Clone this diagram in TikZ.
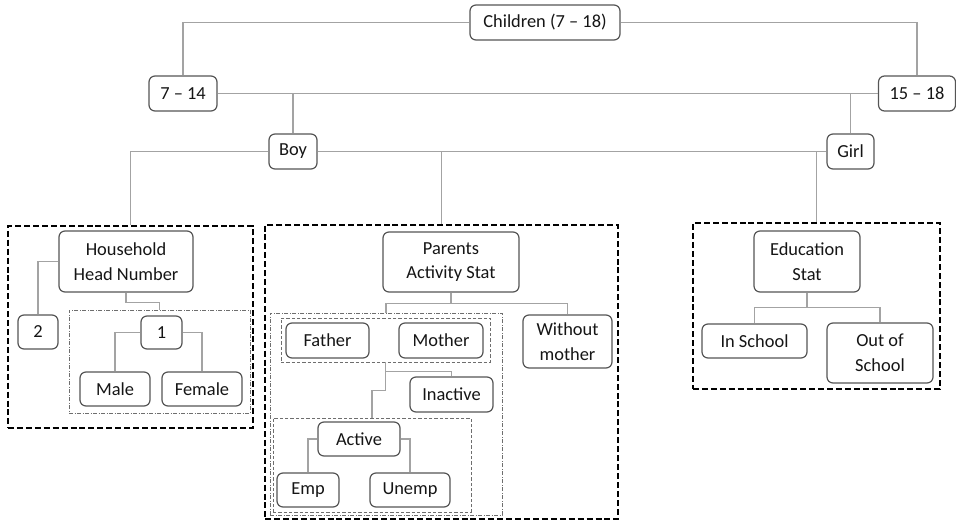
\documentclass[tikz,border=0pt]{standalone}
\usepackage{fontspec}
\setmainfont{Carlito}
\usetikzlibrary{calc}
\definecolor{boxgray}{HTML}{555555}
\definecolor{linkgray}{HTML}{A3A3A3}
\definecolor{setgray}{HTML}{6E6E6E}
\definecolor{textgray}{HTML}{151515}
\tikzset{
	box/.style={draw=boxgray, rounded corners=4.5pt, line width=0.9pt, align=center, inner sep=1pt, fill=white, text=textgray, font=\fontsize{13.8}{18.5}\selectfont},
	link/.style={draw=linkgray, line width=0.8pt},
	groupbox/.style={draw=black, line width=1.5pt, dash pattern=on 4.5pt off 2.2pt, inner sep=0pt},
	dotset/.style={draw=setgray, line width=0.6pt, dash pattern=on 3pt off 1.2pt on 0.6pt off 1.2pt, inner sep=0pt},
	dashset/.style={draw=setgray, line width=0.7pt, dash pattern=on 2.6pt off 1.4pt, inner sep=0pt}
}

\begin{document}
\begin{tikzpicture}[x=0.75pt, y=-0.75pt]
	\useasboundingbox (0,0) rectangle (956,521);
	\node[groupbox, minimum width=183.75pt, minimum height=151.5pt] (grpA) at (130.5,327) {};
	\node[groupbox, minimum width=264.75pt, minimum height=220.5pt] (grpB) at (441.5,372) {};
	\node[groupbox, minimum width=185.25pt, minimum height=124.5pt] (grpC) at (816.5,306) {};
	\node[dotset, minimum width=135.75pt, minimum height=77.25pt] (oneset) at (159.5,361.5) {};
	\node[dotset, minimum width=174pt, minimum height=151.5pt] (parset) at (386,414) {};
	\node[dashset, minimum width=156.75pt, minimum height=33pt] (fmset) at (385.5,340) {};
	\node[dashset, minimum width=148.5pt, minimum height=70.5pt] (actset) at (372,465) {};

	\node[box, minimum width=112.5pt, minimum height=26.25pt] (ch) at (545,22.5) {Children (7 -- 18)};
	\node[box, minimum width=51pt, minimum height=26.25pt] (a714) at (183,93.5) {7 -- 14};
	\node[box, minimum width=57.75pt, minimum height=26.25pt] (a1518) at (917,93.5) {15 -- 18};
	\node[box, minimum width=36pt, minimum height=26.25pt] (boy) at (293,151.5) {Boy};
	\node[box, minimum width=35.25pt, minimum height=26.25pt] (girl) at (850.5,151.5) {Girl};

	\node[box, minimum width=100.5pt, minimum height=45.75pt] (hhn) at (126,261.5) {Household\\Head Number};
	\node[box, minimum width=30pt, minimum height=25.5pt] (two) at (38,332) {2};
	\node[box, minimum width=30.75pt, minimum height=24.75pt] (one) at (161.5,332.5) {1};
	\node[box, minimum width=52.5pt, minimum height=25.5pt] (male) at (115,389) {Male};
	\node[box, minimum width=60pt, minimum height=25.5pt] (female) at (202,389) {Female};

	\node[box, minimum width=102pt, minimum height=45pt] (pas) at (451,262) {Parents\\Activity Stat};
	\node[box, minimum width=62.25pt, minimum height=26.25pt] (father) at (327.5,340.5) {Father};
	\node[box, minimum width=63pt, minimum height=26.25pt] (mother) at (441,340.5) {Mother};
	\node[box, minimum width=66.75pt, minimum height=39.75pt] (without) at (567.5,341.5) {Without\\mother};
	\node[box, minimum width=62.25pt, minimum height=26.25pt] (inactive) at (451.5,394.5) {Inactive};
	\node[box, minimum width=61.5pt, minimum height=25.5pt] (active) at (359,439) {Active};
	\node[box, minimum width=46.5pt, minimum height=25.5pt] (emp) at (308,490) {Emp};
	\node[box, minimum width=60pt, minimum height=25.5pt] (unemp) at (410,490) {Unemp};

	\node[box, minimum width=79.5pt, minimum height=45.75pt] (edu) at (807,261.5) {Education\\Stat};
	\node[box, minimum width=78.75pt, minimum height=25.5pt] (insch) at (754.5,341) {In School};
	\node[box, minimum width=79.5pt, minimum height=45pt] (outsch) at (880,353) {Out of\\School};

	\draw[link] (ch.west) -| (a714.north);
	\draw[link] (ch.east) -| (a1518.north);
	\draw[link] (a714.east) -- (a1518.west);
	\draw[link] (a714.east -| boy.north) -- (boy.north);
	\draw[link] (a1518.west -| girl.north) -- (girl.north);
	\draw[link] (boy.west) -| (grpA.north);
	\draw[link] (boy.east) -- (girl.west);
	\draw[link] (boy.east -| grpB.north) -- (grpB.north);
	\draw[link] (girl.west -| grpC.north) -- (grpC.north);

	\draw[link] (hhn.west) -| (two.north);
	\draw[link] (hhn.south) -- ++(0,10) -| (oneset.north);
	\draw[link] (one.west) -| (male.north);
	\draw[link] (one.east) -| (female.north);

	\draw[link] (pas.south) -- ++(0,11) -| (parset.north);
	\draw[link] (pas.south) ++(0,11) -| (without.north);
	\draw[link] (fmset.south) -- ++(0,9) -| (inactive.north);
	\draw[link] (fmset.south) -- ++(0,28) -| (actset.north);
	\draw[link] (active.west) -| (emp.north);
	\draw[link] (active.east) -| (unemp.north);

	\draw[link] (edu.south) -- ++(0,15) -| (insch.north);
	\draw[link] (edu.south) ++(0,15) -| (outsch.north);
\end{tikzpicture}
\end{document}
